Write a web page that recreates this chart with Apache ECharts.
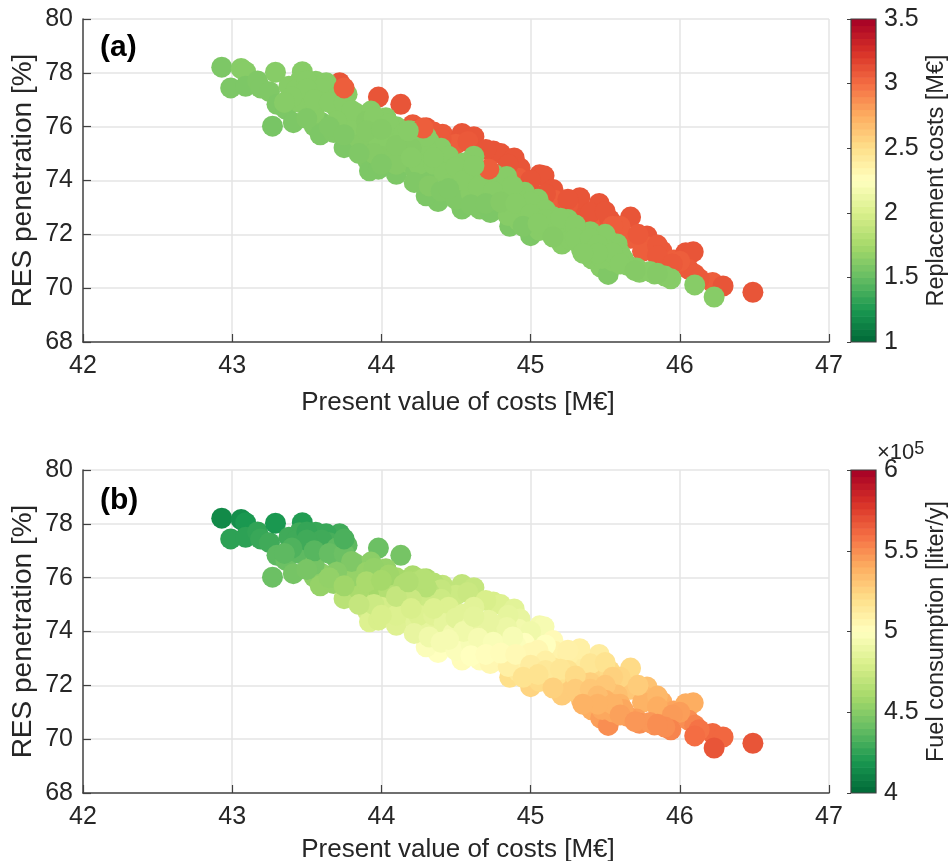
<!DOCTYPE html>
<html><head><meta charset="utf-8">
<style>html,body{margin:0;padding:0;background:#fff}#c{width:950px;height:861px}</style>
<script src="https://cdn.jsdelivr.net/npm/echarts@6/dist/echarts.min.js"></script>
</head><body><div id="c"></div>
<script>
const presentValue = [
43.72,43.98,44.13,44.21,44.30,44.41,44.54,44.62,44.50,44.75,44.80,44.89,44.93,45.06,45.09,44.92,45.15,45.16,45.31,45.33,45.46,45.42,45.53,45.67,45.67,45.78,45.77,45.75,45.88,45.96,46.04,46.09,46.06,46.10,46.22,46.29,46.49,
44.35,44.58,44.85,45.00,45.10,45.25,45.40,45.50,45.60,45.72,45.85,46.00,46.13,
44.25,44.40,44.70,45.25,45.55,45.85,45.95,
42.93,43.06,43.09,42.99,43.09,43.17,43.19,43.25,43.29,43.27,43.30,43.36,43.41,43.38,43.47,43.45,43.43,43.51,43.56,43.56,43.63,43.68,43.77,43.74,43.60,43.55,43.59,43.68,43.83,43.93,44.03,44.08,43.81,43.75,43.88,43.88,44.01,44.19,44.20,44.32,
43.91,43.92,43.98,44.10,44.06,44.18,44.23,44.34,44.44,44.37,44.26,44.64,44.68,44.58,44.62,44.53,44.38,44.54,44.57,44.66,44.77,44.84,44.30,44.73,44.68,44.79,44.96,44.86,44.92,45.00,45.06,45.06,45.13,45.22,45.21,45.35,45.44,45.42,45.34,45.41,45.47,45.52,45.52,45.55,45.58,45.71,45.73,45.83,45.94,46.10,46.23,
45.25,45.15,44.95,45.05,44.50,44.75,45.00,
43.45,43.55,43.65,43.70,43.85,43.95,44.05,43.85,43.80,43.98,44.10,44.12,44.25,44.40,44.30,44.15,44.00,43.95,44.10,44.25,44.35,44.45,44.55,44.42,44.48,44.22,44.32,44.40,44.50,44.60,44.70,44.75,44.84,44.90,44.85,44.95,44.85,45.00,45.10,45.15,45.30,45.27,45.40,45.50,45.50,45.38,45.60,45.65,45.80,45.90,45.62,45.48,
43.50,43.60,43.70,43.50,43.55,43.40,43.35,43.50,43.65,43.75,43.80,43.90,43.70,43.65,43.75,43.95,44.05,43.90,44.00,44.15,44.30,44.20,44.10,43.85,44.00,44.20,44.35,44.50,44.60,44.55,44.45,44.65,44.75,44.88,44.60,44.70,44.80,44.90,45.00,45.10,44.95,45.05,45.20,45.30,45.30,45.15,45.40,45.45,45.55,45.45,45.35,45.60,45.70,45.85,
43.75,44.72,44.28,
44.62,44.18];
const resPenetration = [
77.63,77.10,76.83,76.07,75.96,75.72,75.75,75.63,75.35,75.10,75.00,74.84,74.46,74.21,74.18,74.08,73.67,73.27,73.03,73.36,73.15,72.48,72.54,72.64,71.85,71.94,71.56,71.37,71.38,71.05,71.32,71.35,70.70,70.52,70.21,70.08,69.85,
75.80,75.45,74.60,74.00,73.50,73.10,72.80,72.85,72.30,72.00,71.60,71.00,70.35,
75.90,75.55,75.15,73.30,72.30,71.20,70.90,
78.21,78.16,78.04,77.44,77.50,77.70,77.44,77.30,78.02,76.02,76.83,76.64,76.15,77.50,78.04,77.67,77.38,76.83,77.20,77.69,77.63,77.00,77.20,76.46,76.15,76.02,75.70,75.78,76.50,76.58,76.33,75.96,75.60,75.22,75.90,75.16,75.16,75.35,75.84,75.45,
74.73,74.36,74.42,74.23,74.73,74.67,74.36,74.27,74.67,75.04,74.91,74.36,74.05,73.80,74.90,74.48,73.22,72.94,73.30,72.94,72.94,73.80,73.43,72.81,73.60,73.80,73.56,72.30,72.50,71.95,72.14,72.81,72.20,72.14,71.64,71.95,71.90,71.77,71.46,71.09,70.78,70.51,71.77,71.02,71.64,70.75,70.59,70.53,70.35,70.12,69.67,
72.55,72.65,73.10,73.30,73.60,73.30,72.60,
76.90,76.50,77.30,76.70,76.10,75.70,75.50,75.55,76.05,76.10,76.00,75.65,75.50,75.20,75.20,75.00,74.90,75.00,74.60,74.60,74.60,74.90,74.65,74.30,73.93,73.93,73.80,73.60,73.30,73.55,73.90,74.25,74.15,73.50,73.10,72.90,72.70,73.20,72.90,72.45,72.10,71.80,72.10,72.00,71.45,71.50,71.30,70.85,70.62,70.45,71.10,71.10,
77.70,77.40,77.10,77.40,77.00,77.10,76.90,76.30,76.90,76.90,76.60,76.20,76.20,76.00,75.70,76.35,76.10,75.85,75.90,75.75,75.65,75.20,75.30,75.00,74.60,74.85,74.85,74.50,74.20,74.00,73.70,73.75,73.60,73.80,73.10,73.15,73.20,73.15,72.75,72.55,72.30,72.40,72.60,72.35,71.85,71.90,71.85,71.60,71.30,71.30,71.30,70.90,70.65,70.55,
77.44,74.42,75.95,
74.55,75.85];
const replacementCost = [
3.10,3.10,3.10,3.08,3.10,3.08,3.10,3.10,3.06,3.10,3.10,3.10,3.10,3.10,3.10,3.06,3.10,3.06,3.10,3.10,3.10,3.06,3.10,3.10,3.06,3.10,3.06,3.06,3.08,3.06,3.10,3.10,3.08,3.08,3.06,3.10,3.10,
3.08,3.08,3.10,3.10,3.10,3.08,3.10,3.10,3.06,3.08,3.08,3.06,3.08,
3.10,3.08,3.10,3.10,3.06,3.08,3.08,
1.59,1.63,1.63,1.59,1.59,1.60,1.60,1.60,1.63,1.57,1.59,1.59,1.59,1.63,1.63,1.63,1.63,1.63,1.63,1.63,1.63,1.63,1.63,1.63,1.59,1.60,1.59,1.60,1.63,1.63,1.63,1.63,1.59,1.59,1.63,1.60,1.62,1.63,1.63,1.63,
1.60,1.59,1.59,1.59,1.60,1.63,1.60,1.60,1.63,1.63,1.63,1.63,1.63,1.60,1.63,1.63,1.59,1.59,1.60,1.60,1.60,1.63,1.59,1.59,1.63,1.63,1.63,1.59,1.63,1.59,1.63,1.63,1.63,1.63,1.63,1.63,1.63,1.63,1.63,1.63,1.63,1.60,1.63,1.63,1.63,1.63,1.63,1.63,1.63,1.63,1.63,
1.63,1.63,1.63,1.63,1.63,1.63,1.63,
1.63,1.63,1.63,1.63,1.63,1.63,1.63,1.62,1.63,1.63,1.63,1.63,1.63,1.63,1.63,1.63,1.62,1.62,1.62,1.63,1.63,1.63,1.63,1.63,1.63,1.60,1.62,1.60,1.60,1.63,1.63,1.63,1.63,1.63,1.62,1.63,1.63,1.63,1.63,1.63,1.63,1.63,1.63,1.63,1.63,1.63,1.63,1.63,1.63,1.63,1.63,1.63,
1.63,1.63,1.63,1.63,1.63,1.63,1.63,1.60,1.63,1.63,1.63,1.62,1.63,1.60,1.60,1.63,1.63,1.62,1.62,1.63,1.63,1.62,1.62,1.60,1.60,1.63,1.63,1.63,1.63,1.63,1.60,1.63,1.63,1.63,1.60,1.60,1.62,1.63,1.63,1.63,1.60,1.63,1.63,1.63,1.63,1.62,1.63,1.63,1.63,1.63,1.63,1.63,1.62,1.62,
3.06,3.06,3.06,
1.63,1.63];
const fuelConsumption = [
4.30,4.42,4.45,4.62,4.63,4.70,4.70,4.72,4.75,4.80,4.82,4.85,4.88,4.94,4.95,4.93,5.03,5.08,5.12,5.10,5.12,5.24,5.22,5.22,5.30,5.32,5.35,5.38,5.40,5.43,5.40,5.40,5.50,5.53,5.62,5.62,5.68,
4.66,4.74,4.87,4.92,5.00,5.10,5.16,5.18,5.24,5.28,5.36,5.45,5.58,
4.63,4.72,4.80,5.09,5.26,5.40,5.46,
4.14,4.16,4.20,4.25,4.25,4.26,4.28,4.30,4.20,4.42,4.38,4.42,4.45,4.30,4.22,4.30,4.30,4.40,4.33,4.28,4.28,4.40,4.38,4.48,4.52,4.52,4.55,4.55,4.50,4.52,4.55,4.60,4.62,4.68,4.62,4.70,4.72,4.72,4.65,4.68,
4.78,4.82,4.80,4.83,4.80,4.82,4.85,4.87,4.84,4.80,4.80,4.88,4.90,4.92,4.85,4.85,5.00,5.02,4.98,5.02,5.03,4.95,4.98,5.05,4.97,4.95,5.00,5.20,5.15,5.25,5.22,5.13,5.22,5.20,5.28,5.28,5.30,5.33,5.35,5.40,5.45,5.50,5.35,5.42,5.33,5.44,5.50,5.50,5.53,5.60,5.68,
5.18,5.15,5.07,5.05,4.95,5.00,5.15,
4.38,4.45,4.32,4.45,4.55,4.60,4.65,4.62,4.55,4.55,4.60,4.66,4.68,4.75,4.75,4.75,4.78,4.75,4.82,4.82,4.84,4.82,4.85,4.87,4.93,4.88,4.92,4.95,4.98,4.96,4.92,4.88,4.90,4.98,5.03,5.08,5.10,5.05,5.10,5.17,5.25,5.28,5.27,5.30,5.38,5.35,5.38,5.45,5.47,5.50,5.42,5.42,
4.27,4.30,4.38,4.30,4.36,4.34,4.38,4.46,4.40,4.42,4.48,4.55,4.50,4.54,4.58,4.54,4.58,4.62,4.60,4.64,4.66,4.74,4.72,4.72,4.80,4.80,4.82,4.85,4.89,4.92,4.95,4.95,4.97,4.96,5.00,5.01,5.02,5.04,5.12,5.15,5.18,5.18,5.16,5.22,5.28,5.26,5.30,5.34,5.38,5.38,5.38,5.44,5.47,5.50,
4.33,4.88,4.66,
4.86,4.64];
const xTicks = {min:42,max:47,interval:1};
const yTicks = {min:68,max:80,interval:2};
const replacementTicks = {min:1,max:3.5,interval:0.5};
const fuelTicks = {min:4,max:6,interval:0.5};
const ramp = ['#006837','#1a9850','#66bd63','#a6d96a','#d9ef8b','#ffffbf','#fee08b','#fdae61','#f46d43','#d73027','#a50026'];
const bandCount = 50;
const FONT='"Liberation Sans",Arial,sans-serif', TXT='#262626', AX='#404040', GRID='#e4e4e4';

const chart = echarts.init(document.getElementById('c'));
function pts(v){return presentValue.map((x,i)=>[x,resPenetration[i],v[i]]);}
function mainX(i,gap){return {gridIndex:i,type:'value',...xTicks,name:'Present value of costs [M€]',nameLocation:'middle',nameGap:gap,
  nameTextStyle:{fontFamily:FONT,fontSize:26,color:TXT,padding:[0,0,0,4]},
  axisLine:{show:true,onZero:false,lineStyle:{color:AX,width:1.5}},axisTick:{show:true,inside:true,length:8,lineStyle:{color:AX,width:1.2}},
  axisLabel:{fontFamily:FONT,fontSize:25,color:TXT,margin:12},splitLine:{show:true,showMinLine:false,lineStyle:{color:GRID,width:1.5}}};}
function mainY(i){return {gridIndex:i,type:'value',...yTicks,name:'RES penetration [%]',nameLocation:'middle',nameGap:46,nameMoveOverlap:false,
  nameTextStyle:{fontFamily:FONT,fontSize:28,color:TXT},
  axisLine:{show:true,onZero:false,lineStyle:{color:AX,width:1.5}},axisTick:{show:true,inside:true,length:8,lineStyle:{color:AX,width:1.2}},
  axisLabel:{fontFamily:FONT,fontSize:25,color:TXT,margin:10},splitLine:{show:true,showMinLine:false,lineStyle:{color:GRID,width:1.5}}};}
function barX(i){return {gridIndex:i,type:'value',min:0,max:1,show:false};}
function barY(i,t,name,gap){return {gridIndex:i,type:'value',position:'right',...t,name,nameLocation:'middle',nameGap:gap,nameRotate:90,
  nameTextStyle:{fontFamily:FONT,fontSize:23.5,color:TXT},
  axisLine:{show:false},axisTick:{show:true,inside:true,length:4,lineStyle:{color:AX,width:1}},
  axisLabel:{fontFamily:FONT,fontSize:25,color:TXT,margin:8},splitLine:{show:false}};}
function bandColor(k){return echarts.color.lerp((k+0.5)/bandCount,ramp);}
function bandSeries(xi,t){
  const step=(t.max-t.min)/bandCount,data=[];
  for(let k=0;k<bandCount;k++)data.push([t.min+k*step,t.min+(k+1)*step]);
  return {type:'custom',xAxisIndex:xi,yAxisIndex:xi,silent:true,clip:true,data,encode:{y:[0,1]},z:1,
    renderItem(p,api){const a=api.coord([0,api.value(0)]),b=api.coord([1,api.value(1)]);
      return {type:'rect',shape:{x:a[0],y:b[1],width:b[0]-a[0],height:a[1]-b[1]+0.6},style:{fill:bandColor(p.dataIndex)}};}};
}
function scatter(i,v){return {type:'scatter',xAxisIndex:i,yAxisIndex:i,data:pts(v),symbolSize:21,z:3,clip:true,silent:true,itemStyle:{opacity:1},large:false,progressive:0};}
const gridBase={outerBoundsMode:'none',containLabel:false};
chart.setOption({
  animation:false,backgroundColor:'#fff',
  grid:[
    {...gridBase,left:83,top:19,width:746,height:323},
    {...gridBase,left:83,top:470,width:746,height:323},
    {...gridBase,left:851,top:19,width:25,height:323,show:true,borderColor:AX,borderWidth:1.2,z:5},
    {...gridBase,left:851,top:470,width:25,height:323,show:true,borderColor:AX,borderWidth:1.2,z:5}
  ],
  xAxis:[mainX(0,48),mainX(1,44),barX(2),barX(3)],
  yAxis:[mainY(0),mainY(1),barY(2,replacementTicks,'Replacement costs [M€]',49),barY(3,fuelTicks,'Fuel consumption [liter/y]',49)],
  visualMap:[
    {show:false,type:'continuous',seriesIndex:0,dimension:2,min:replacementTicks.min,max:replacementTicks.max,inRange:{color:ramp}},
    {show:false,type:'continuous',seriesIndex:1,dimension:2,min:fuelTicks.min,max:fuelTicks.max,inRange:{color:ramp}}
  ],
  series:[scatter(0,replacementCost),scatter(1,fuelConsumption),bandSeries(2,replacementTicks),bandSeries(3,fuelTicks)],
  graphic:[
    {type:'text',left:100,top:33,z:10,style:{text:'(a)',font:'bold 30px "Liberation Sans"',fill:'#000'}},
    {type:'text',left:100,top:486,z:10,style:{text:'(b)',font:'bold 30px "Liberation Sans"',fill:'#000'}},
    {type:'text',left:877,top:440,z:10,style:{text:'×10{s|5}',font:'22px "Liberation Sans"',fill:TXT,rich:{s:{fontSize:18,fontFamily:'Liberation Sans',fill:TXT,verticalAlign:'top',padding:[0,0,8,0]}}}}
  ]
});
</script></body></html>
